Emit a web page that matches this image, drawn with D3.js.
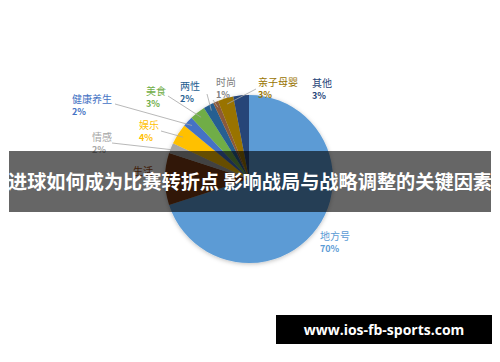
<!DOCTYPE html>
<html><head><meta charset="utf-8">
<script src="https://cdn.jsdelivr.net/npm/d3@7"></script>
<style>
html,body{margin:0;padding:0;background:#fff;}
svg{display:block;}
</style></head>
<body>
<svg id="c" width="500" height="362"></svg>
<script>
const categories = ["地方号","生活","情感","娱乐","健康养生","美食","两性","时尚","亲子母婴","其他"];
const values = [70,10,2,4,2,3,2,1,3,3];
const pctLabels = ["70%","","2%","4%","2%","3%","2%","1%","3%","3%"];
const colors = ["#5B9BD5","#7B3A12","#A5A5A5","#FFC000","#4472C4","#70AD47","#255E91","#8C5A3A","#997300","#264478"];
const labelColors = ["#5B9BD5","#9E480E","#A5A5A5","#FFC000","#4472C4","#70AD47","#255E91","#7F7F7F","#997300","#264478"];
const title = "进球如何成为比赛转折点 影响战局与战略调整的关键因素";
const site = "www.ios-fb-sports.com";

const labelPos = {
  "地方号":[320,240],"生活":[133,175],"情感":[92,141],"娱乐":[139,129],"健康养生":[72,103],
  "美食":[146,95],"两性":[180,90],"时尚":[216,86],"亲子母婴":[258,86],"其他":[312,87]
};
const lineStart = {
  "情感":[112,143],"娱乐":[161,131],"健康养生":[115,104],"美食":[168,96],"两性":[207,94],
  "时尚":[213,100],"亲子母婴":[256,89]
};

const svg = d3.select("#c");
const defs = svg.append("defs");
const f = defs.append("filter").attr("id","sh").attr("x","-20%").attr("y","-20%").attr("width","140%").attr("height","140%");
f.append("feDropShadow").attr("dx",0).attr("dy",1).attr("stdDeviation",2).attr("flood-color","#000").attr("flood-opacity",0.25);

const cx = 249, cy = 179, r = 84;
const pie = d3.pie().sort(null).value(d=>d.v);
const data = pie(categories.map((c,i)=>({c, v:values[i], i})));
const arc = d3.arc().innerRadius(0).outerRadius(r);
const g = svg.append("g").attr("transform",`translate(${cx},${cy})`);
g.append("g").attr("filter","url(#sh)").selectAll("path").data(data).join("path")
  .attr("d",arc).attr("fill",d=>colors[d.data.i]);

const arcMid = d3.arc().innerRadius(r*0.93).outerRadius(r*0.93);
data.forEach(d=>{
  const s = lineStart[d.data.c];
  if(!s) return;
  const p = arcMid.centroid(d);
  svg.append("line").attr("x1",s[0]).attr("y1",s[1]).attr("x2",cx+p[0]).attr("y2",cy+p[1])
    .attr("stroke","#A6A6A6").attr("stroke-width",0.8);
});

data.forEach(d=>{
  const c = d.data.c, p = labelPos[c];
  const t = svg.append("text").attr("x",p[0]).attr("y",p[1])
    .attr("font-family","'Noto Sans CJK SC','Noto Sans',sans-serif").attr("font-size",10)
    .attr("fill",labelColors[d.data.i]);
  t.append("tspan").attr("x",p[0]).text(c);
  if (pctLabels[d.data.i]) t.append("tspan").attr("x",p[0]).attr("dy",12).attr("font-weight","bold").attr("font-size",9).text(pctLabels[d.data.i]);
});

svg.append("rect").attr("x",9).attr("y",151).attr("width",482).attr("height",61).attr("fill","rgba(0,0,0,0.6)");
svg.append("text").attr("x",250).attr("y",189).attr("text-anchor","middle")
  .attr("font-family","'Noto Sans CJK SC',sans-serif").attr("font-weight","bold").attr("font-size",19.2)
  .attr("fill","#fff").text(title);

svg.append("rect").attr("x",276).attr("y",315).attr("width",216).attr("height",29).attr("fill","#000");
svg.append("text").attr("x",384).attr("y",335).attr("text-anchor","middle")
  .attr("font-family","'Open Sans','DejaVu Sans',sans-serif").attr("font-weight","bold").attr("font-size",14)
  .attr("fill","#fff").text(site);
</script>
</body></html>
